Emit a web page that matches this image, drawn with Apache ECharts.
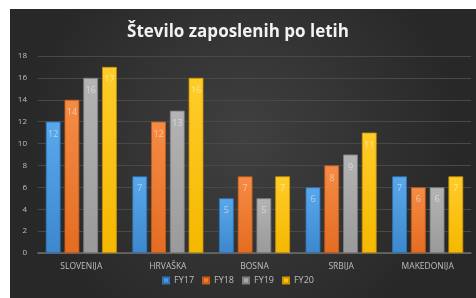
<!DOCTYPE html>
<html><head><meta charset="utf-8">
<script src="https://cdn.jsdelivr.net/npm/echarts@6/dist/echarts.min.js"></script>
<style>html,body{margin:0;padding:0;background:#fff}#c{width:476px;height:298px}</style>
</head><body><div id="c"></div>
<script>
const categories = ['SLOVENIJA', 'HRVAŠKA', 'BOSNA', 'SRBIJA', 'MAKEDONIJA'];
const seriesNames = ['FY17', 'FY18', 'FY19', 'FY20'];
const fy17 = [12, 7, 5, 6, 7];
const fy18 = [14, 12, 7, 8, 6];
const fy19 = [16, 13, 5, 9, 6];
const fy20 = [17, 16, 7, 11, 7];
const values = [fy17, fy18, fy19, fy20];
const colors = [['#5aa8ec', '#3d88cc', '#2f74b5'], ['#f58c45', '#e46c22', '#c65a17'], ['#b4b4b4', '#9a9a9a', '#7f7f7f'], ['#ffcc2a', '#f5b800', '#c99700']];

const chart = echarts.init(document.getElementById('c'), null, {renderer: 'canvas'});
chart.setOption({
  backgroundColor: '#ffffff',
  animation: false,
  graphic: [{
    type: 'rect', z: -10, silent: true,
    shape: {x: 10, y: 9, width: 466, height: 289},
    style: {fill: new echarts.graphic.RadialGradient(0.5, 0.45, 0.75, [
      {offset: 0, color: '#404040'}, {offset: 1, color: '#282828'}])}
  }],
  title: {
    text: 'Število zaposlenih po letih',
    left: 'center', top: 19,
    textStyle: {color: '#f2f2f2', fontSize: 17, fontWeight: 'bold', fontFamily: 'Open Sans'}
  },
  legend: {
    data: seriesNames, bottom: 8, left: 'center',
    itemWidth: 6, itemHeight: 6, itemGap: 8, icon: 'rect',
    textStyle: {color: '#bfbfbf', fontSize: 9, fontFamily: 'Open Sans'}
  },
  grid: {left: 38, right: 5, top: 56, bottom: 45, containLabel: false},
  xAxis: {
    type: 'category', data: categories,
    axisLine: {lineStyle: {color: '#6e6e6e', width: 1.5}},
    axisTick: {show: false},
    axisLabel: {color: '#bfbfbf', fontSize: 8.5, fontFamily: 'Open Sans', margin: 9}
  },
  yAxis: {
    type: 'value', min: 0, max: 18, interval: 2,
    axisLine: {show: false}, axisTick: {show: false},
    splitLine: {lineStyle: {color: '#494949', width: 1}},
    axisLabel: {color: '#bfbfbf', fontSize: 8, fontFamily: 'Open Sans', margin: 11}
  },
  series: seriesNames.map((n, i) => ({
    name: n, type: 'bar', data: values[i],
    barGap: '27%', barCategoryGap: '18%',
    itemStyle: {
      color: new echarts.graphic.LinearGradient(0, 0, 0, 1, [
        {offset: 0, color: colors[i][0]}, {offset: 1, color: colors[i][1]}]),
      borderColor: colors[i][2], borderWidth: 0.8
    },
    label: {show: true, position: 'insideTop', distance: 8, color: 'rgba(255,255,255,0.5)', fontSize: 9, fontFamily: 'Open Sans'}
  }))
});
</script></body></html>
